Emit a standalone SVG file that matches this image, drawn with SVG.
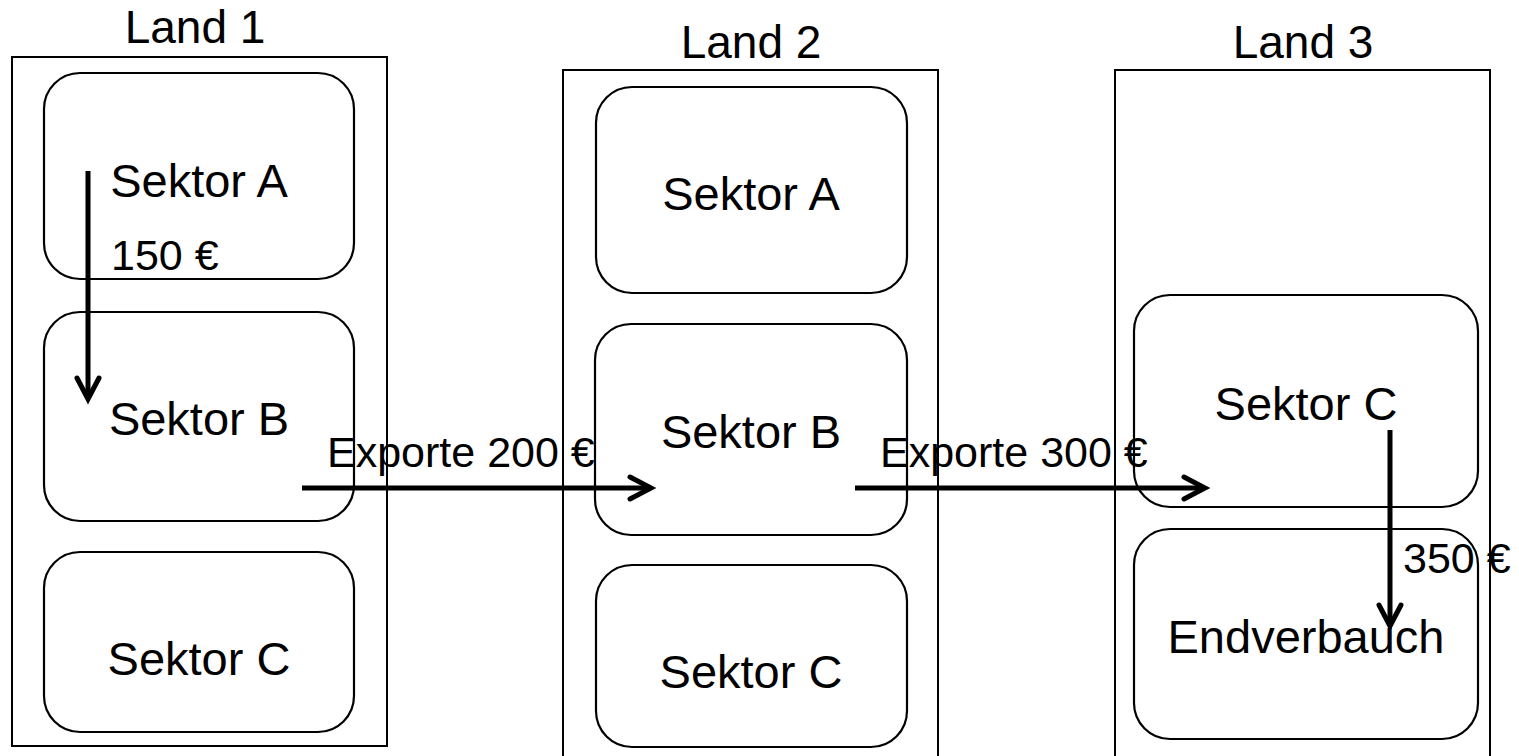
<svg xmlns="http://www.w3.org/2000/svg" width="1519" height="756" viewBox="0 0 1519 756">
<defs>
<style>
.land{fill:none;stroke:#000;stroke-width:2}
.sek{fill:none;stroke:#000;stroke-width:2.2}
.t{font-family:"Liberation Sans",Arial,sans-serif;font-size:47px;fill:#000;text-anchor:middle}
.tl{font-family:"Liberation Sans",Arial,sans-serif;font-size:46px;fill:#000;text-anchor:middle}
.l{font-family:"Liberation Sans",Arial,sans-serif;font-size:43px;fill:#000}
.arr{fill:none;stroke:#000;stroke-width:5}
.head{fill:none;stroke:#000;stroke-width:5;stroke-linecap:round;stroke-linejoin:miter}
</style>
</defs>
<rect width="1519" height="756" fill="#fff"/>
<g id="land1">
<text class="tl" x="195" y="43">Land 1</text>
<rect class="land" x="12" y="57" width="375" height="689"/>
</g>
<g id="land2">
<text class="tl" x="751" y="58">Land 2</text>
<rect class="land" x="563" y="70" width="375" height="700"/>
</g>
<g id="land3">
<text class="tl" x="1303" y="58">Land 3</text>
<rect class="land" x="1115" y="70" width="375" height="700"/>
</g>
<g id="l1-sektor-a"><rect class="sek" x="44" y="73" width="310" height="206" rx="36"/><text class="t" x="199" y="197">Sektor A</text></g>
<g id="l1-sektor-b"><rect class="sek" x="44" y="312" width="310" height="209" rx="36"/><text class="t" x="199" y="435">Sektor B</text></g>
<g id="l1-sektor-c"><rect class="sek" x="44" y="552" width="310" height="180" rx="36"/><text class="t" x="199" y="675">Sektor C</text></g>
<g id="l2-sektor-a"><rect class="sek" x="596" y="87" width="311" height="206" rx="36"/><text class="t" x="751" y="210">Sektor A</text></g>
<g id="l2-sektor-b"><rect class="sek" x="595" y="324" width="312" height="211" rx="36"/><text class="t" x="751" y="448">Sektor B</text></g>
<g id="l2-sektor-c"><rect class="sek" x="596" y="565" width="311" height="182" rx="36"/><text class="t" x="751" y="688">Sektor C</text></g>
<g id="l3-sektor-c"><rect class="sek" x="1134" y="295" width="344" height="212" rx="36"/><text class="t" x="1306" y="420">Sektor C</text></g>
<g id="l3-endverbrauch"><rect class="sek" x="1134" y="529" width="344" height="210" rx="36"/><text class="t" x="1306" y="653">Endverbauch</text></g>
<g id="connectors">
<line class="arr" x1="88" y1="171" x2="88" y2="398"/>
<polyline class="head" points="77,378 88,399 99,378"/>
<text class="l" x="111" y="270">150 €</text>
<line class="arr" x1="302" y1="488" x2="650" y2="488"/>
<polyline class="head" points="630,477 651,488 630,499"/>
<text class="l" x="327" y="467">Exporte 200 €</text>
<line class="arr" x1="855" y1="488" x2="1204" y2="488"/>
<polyline class="head" points="1184,477 1205,488 1184,499"/>
<text class="l" x="880" y="467">Exporte 300 €</text>
<line class="arr" x1="1390" y1="430" x2="1390" y2="625"/>
<polyline class="head" points="1379,605 1390,626 1401,605"/>
<text class="l" x="1403" y="573">350 €</text>
</g>
</svg>
